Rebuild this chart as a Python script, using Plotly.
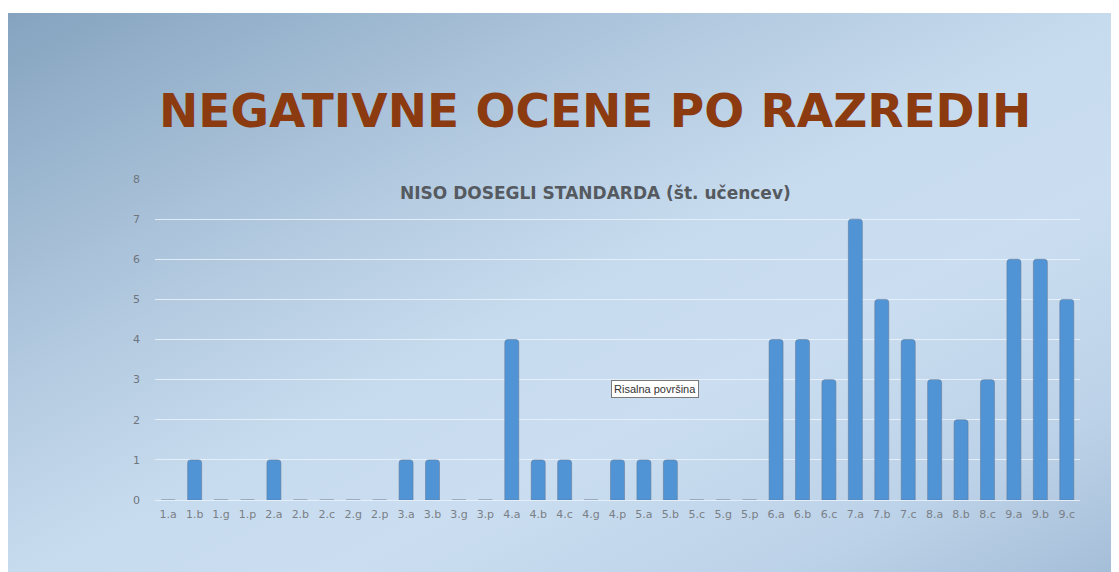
import base64
import plotly.graph_objects as go

categories = ["1.a", "1.b", "1.g", "1.p", "2.a", "2.b", "2.c", "2.g", "2.p",
              "3.a", "3.b", "3.g", "3.p", "4.a", "4.b", "4.c", "4.g", "4.p",
              "5.a", "5.b", "5.c", "5.g", "5.p", "6.a", "6.b", "6.c",
              "7.a", "7.b", "7.c", "8.a", "8.b", "8.c", "9.a", "9.b", "9.c"]
values = [0, 1, 0, 0, 1, 0, 0, 0, 0,
          1, 1, 0, 0, 4, 1, 1, 0, 1,
          1, 1, 0, 0, 0, 4, 4, 3,
          7, 5, 4, 3, 2, 3, 6, 6, 5]
y_ticks = [0, 1, 2, 3, 4, 5, 6, 7, 8]

OFF = 8  # page body margin
W, H = 1119 - OFF, 572 - OFF
L, R, T, B = 155 - OFF, 1080 - OFF, 179 - OFF, 500 - OFF
pw, ph = R - L, B - T

svg = '''<svg xmlns="http://www.w3.org/2000/svg" width="1111" height="559" viewBox="0 0 1111 559" preserveAspectRatio="none">
<defs>
<linearGradient id="g" x1="0" y1="0" x2="1" y2="1">
<stop offset="0" stop-color="#85a3bf"/>
<stop offset="0.28" stop-color="#adc5dc"/>
<stop offset="0.5" stop-color="#c7dbee"/>
<stop offset="0.65" stop-color="#cbdef1"/>
<stop offset="0.85" stop-color="#bcd2e8"/>
<stop offset="1" stop-color="#a5bed8"/>
</linearGradient>
</defs>
<rect width="1111" height="559" fill="url(#g)"/>
</svg>'''
src = "data:image/svg+xml;base64," + base64.b64encode(svg.encode()).decode()

fig = go.Figure()
fig.add_trace(go.Bar(
    x=categories, y=values,
    marker=dict(color="#5094d5", line=dict(color="rgba(100,120,150,0.55)", width=1),
                cornerradius=3),
    hoverinfo="skip",
))

fig.update_layout(
    width=W, height=H,
    margin=dict(l=L, r=W - R, t=T, b=H - B, pad=0),
    paper_bgcolor="white",
    plot_bgcolor="rgba(0,0,0,0)",
    bargap=0.47,
    showlegend=False,
    images=[dict(source=src, xref="paper", yref="paper",
                 x=(0 - L) / pw, y=(B - 5) / ph,
                 sizex=W / pw, sizey=(H - 5) / ph,
                 xanchor="left", yanchor="top", sizing="stretch", layer="below")],
    xaxis=dict(type="category", showgrid=False, showline=False, ticks="",
               tickfont=dict(family="DejaVu Sans", size=11, color="#7a7f86"),
               ticklabelstandoff=6),
    yaxis=dict(range=[0, 8], tickvals=y_ticks, showgrid=True,
               gridcolor="rgba(235,242,250,0.85)", gridwidth=1,
               zeroline=True, zerolinecolor="rgba(235,242,250,0.85)", zerolinewidth=1,
               showline=False, ticks="",
               tickfont=dict(family="DejaVu Sans", size=11, color="#6f757d"),
               ticklabelstandoff=14),
    annotations=[
        dict(text="<b>NEGATIVNE OCENE PO RAZREDIH</b>", xref="paper", yref="paper",
             x=(595 - OFF - L) / pw, y=(B - (110 - OFF)) / ph, xanchor="center", yanchor="middle",
             showarrow=False, font=dict(family="DejaVu Sans", size=47, color="#8b3b0f")),
        dict(text="<b>NISO DOSEGLI STANDARDA (št. učencev)</b>", xref="paper", yref="paper",
             x=(595 - OFF - L) / pw, y=(B - (193 - OFF)) / ph, xanchor="center", yanchor="middle",
             showarrow=False, font=dict(family="DejaVu Sans", size=17, color="#555a60")),
        dict(text="Risalna površina", xref="paper", yref="paper",
             x=(611 - OFF - L) / pw, y=(B - (389 - OFF)) / ph, xanchor="left", yanchor="middle",
             showarrow=False, bgcolor="white", bordercolor="#7a7a7a", borderwidth=1,
             borderpad=2, font=dict(family="Liberation Sans", size=11, color="#333333")),
    ],
)

fig.write_html("out.html")
